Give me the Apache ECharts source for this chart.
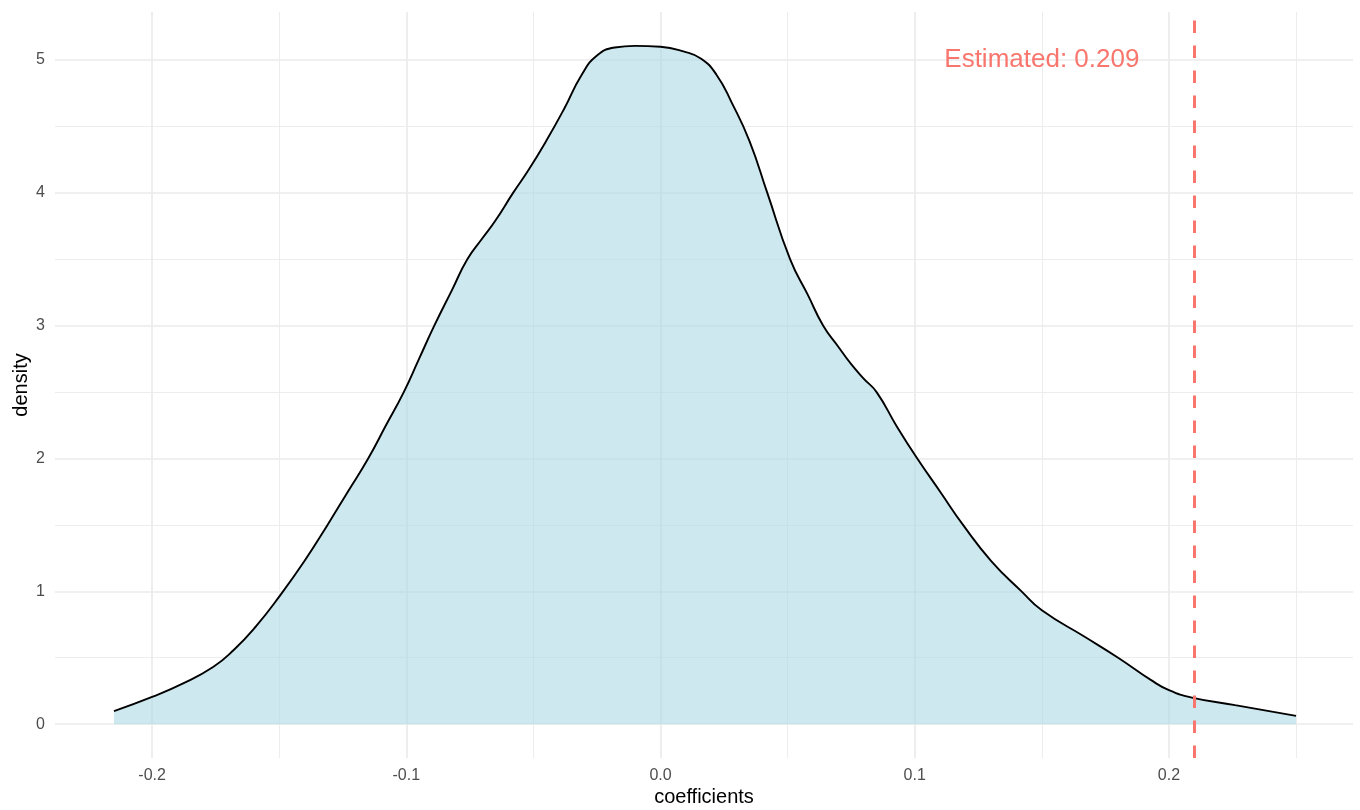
<!DOCTYPE html>
<html>
<head>
<meta charset="utf-8">
<script src="https://cdn.jsdelivr.net/npm/echarts@6/dist/echarts.min.js"></script>
<style>
html,body{margin:0;padding:0;background:#fff;}
#chart{width:1360px;height:810px;}
</style>
</head>
<body>
<div id="chart"></div>
<script>
// ---- data ----
const coefX = [-0.215, -0.2, -0.188, -0.176, -0.168, -0.159, -0.15, -0.140, -0.131, -0.123,
  -0.115, -0.108, -0.101, -0.095, -0.089, -0.082, -0.076, -0.070, -0.065, -0.058,
  -0.052, -0.045, -0.038, -0.031, -0.025, -0.018, -0.010, 0.0, 0.009, 0.016,
  0.022, 0.028, 0.035, 0.042, 0.051, 0.058, 0.064, 0.070, 0.075, 0.080,
  0.085, 0.093, 0.101, 0.110, 0.119, 0.130, 0.142, 0.150, 0.167, 0.180,
  0.193, 0.200, 0.209, 0.226, 0.250];
const densY = [0.098, 0.205, 0.305, 0.43, 0.556, 0.74, 0.96, 1.23, 1.5, 1.75,
  2.0, 2.25, 2.5, 2.75, 3.0, 3.27, 3.5, 3.66, 3.79, 4.0,
  4.17, 4.39, 4.63, 4.89, 5.035, 5.095, 5.107, 5.1, 5.065, 5.01,
  4.89, 4.68, 4.39, 4.0, 3.5, 3.23, 3.0, 2.84, 2.71, 2.60,
  2.5, 2.24, 2.0, 1.75, 1.5, 1.23, 1.0, 0.857, 0.656, 0.5,
  0.331, 0.256, 0.2, 0.143, 0.062];
const xTicks = [-0.2, -0.1, 0.0, 0.1, 0.2];
const xMinor = [-0.15, -0.05, 0.05, 0.15, 0.25];
const yTicks = [0, 1, 2, 3, 4, 5];
const yMinor = [0.5, 1.5, 2.5, 3.5, 4.5];
const estimate = 0.209;
const estLabel = 'Estimated: 0.209';
const estLabelPos = [0.15, 5];
const xRange = [-0.2382, 0.2724];
const yRange = [-0.255, 5.362];

const red = '#F8766D';
const font = '"Liberation Sans", Arial, Helvetica, sans-serif';
const curve = coefX.map((x, i) => [x, densY[i]]);

const chart = echarts.init(document.getElementById('chart'), null, {renderer: 'canvas'});
chart.setOption({
  animation: false,
  backgroundColor: '#ffffff',
  grid: {left: 55, right: 7, top: 12, bottom: 52, containLabel: false, outerBoundsMode: 'none'},
  xAxis: {
    type: 'value', min: xRange[0], max: xRange[1],
    name: 'coefficients', nameLocation: 'middle', nameGap: 29, nameMoveOverlap: false,
    nameTextStyle: {color: '#000', fontSize: 20, fontFamily: font},
    axisLine: {show: false}, axisTick: {show: false}, splitLine: {show: false},
    axisLabel: {customValues: xTicks, color: '#4D4D4D', fontSize: 16, fontFamily: font, margin: 10,
      formatter: v => v.toFixed(1)}
  },
  yAxis: {
    type: 'value', min: yRange[0], max: yRange[1],
    name: 'density', nameLocation: 'middle', nameGap: 24, nameMoveOverlap: false,
    nameTextStyle: {color: '#000', fontSize: 20, fontFamily: font},
    axisLine: {show: false}, axisTick: {show: false}, splitLine: {show: false},
    axisLabel: {customValues: yTicks, color: '#4D4D4D', fontSize: 16, fontFamily: font, margin: 10,
      formatter: v => String(Math.round(v))}
  },
  series: [
    {
      type: 'line', data: [], z: 1, silent: true,
      markLine: {
        z: 1, silent: true, symbol: ['none', 'none'], label: {show: false}, animation: false,
        data: [
          ...xMinor.map(v => ({xAxis: v, lineStyle: {color: '#EBEBEB', width: 0.9, type: 'solid'}})),
          ...yMinor.map(v => ({yAxis: v, lineStyle: {color: '#EBEBEB', width: 0.9, type: 'solid'}})),
          ...xTicks.map(v => ({xAxis: v, lineStyle: {color: '#EBEBEB', width: 1.7, type: 'solid'}})),
          ...yTicks.map(v => ({yAxis: v, lineStyle: {color: '#EBEBEB', width: 1.7, type: 'solid'}}))
        ]
      }
    },
    {
      type: 'line', data: curve, z: 3, smooth: 0.5, showSymbol: false, symbol: 'none',
      lineStyle: {color: '#000000', width: 1.9},
      areaStyle: {color: 'rgb(173,216,230)', opacity: 0.6, origin: 'auto'}
    },
    {
      type: 'line', data: [], z: 5, silent: true,
      markLine: {
        z: 5, silent: true, symbol: ['none', 'none'], label: {show: false}, animation: false,
        data: [{xAxis: estimate, lineStyle: {color: red, width: 3, type: [12.5, 12.5]}}]
      }
    },
    {
      type: 'scatter', data: [estLabelPos], z: 6, symbolSize: 1, silent: true,
      itemStyle: {color: 'transparent', opacity: 1},
      label: {show: true, position: 'inside', formatter: estLabel, color: red, fontSize: 26,
        fontFamily: font, textBorderWidth: 0, opacity: 1}
    }
  ]
});
</script>
</body>
</html>
